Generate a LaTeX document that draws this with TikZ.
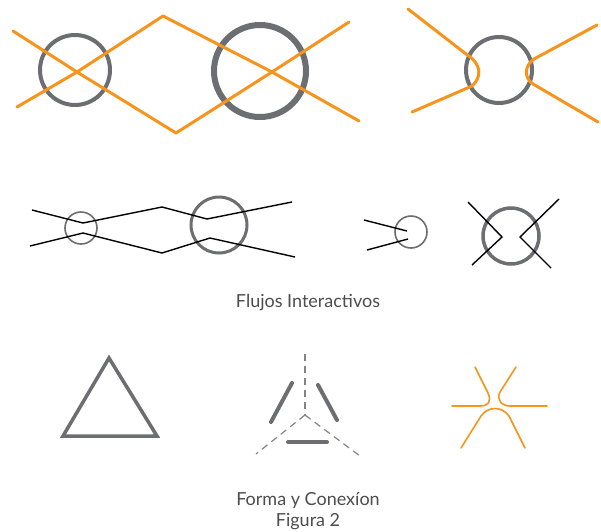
\documentclass[tikz,border=0pt]{standalone}
\usepackage{fontspec}
\setmainfont{Lato}
\definecolor{flujo}{HTML}{F7941D}
\definecolor{forma}{HTML}{6D6E71}
\definecolor{rotulo}{HTML}{4D4D4D}
\tikzset{
    flujo/.style={draw=flujo,line cap=round,line join=round},
    forma/.style={draw=forma},
    enlace/.style={draw=black,line width=1.4pt},
    punteada/.style={draw=forma!85,line width=1.2pt,dash pattern=on 7pt off 5pt},
    rotulo/.style={text=rotulo,font=\fontsize{18}{20}\selectfont}
}

\begin{document}
\begin{tikzpicture}[x=1pt,y=-1pt]
            \clip (0,0) rectangle (601,531);
            \fill[white] (0,0) rectangle (601,531);

            \draw[forma,line width=4pt] (75,70) circle (35);
            \draw[forma,line width=6pt] (260,71) circle (46);
            \draw[flujo,line width=3pt] (13,31) -- (77,72) -- (176,133) -- (272,72) -- (349,22);
            \draw[flujo,line width=3pt] (17,107) -- (77,72) -- (163,16) -- (272,72) -- (359,121);

            \draw[forma,line width=4pt] (499,70) circle (33);
            \draw[flujo,line width=3pt] (408,9) -- (466,54) .. controls (482,64) and (482,77) .. (472,86) -- (412,112);
            \draw[flujo,line width=3pt] (597,25) -- (534,59) .. controls (524,66) and (524,78) .. (533,84) -- (598,122);

            \draw[forma,line width=1.6pt] (81,228) circle (16);
            \draw[forma,line width=3pt] (219,225) circle (28);
            \draw[enlace] (32,210) -- (83,223) -- (162,207) -- (207,219) -- (292,202);
            \draw[enlace] (30,246) -- (83,233) -- (162,253) -- (210,238) -- (295,257);

            \draw[forma,line width=1.6pt] (411,232) circle (16);
            \draw[enlace] (364,220) -- (407,231);
            \draw[enlace] (367,250) -- (408,239);

            \draw[forma,line width=3.5pt] (511,236) circle (28);
            \draw[enlace] (468,202) -- (502,237) -- (472,265);
            \draw[enlace] (559,199) -- (520,237) -- (551,268);

            \node[rotulo] (flujos) at (308,302) {Flujos Interactivos};

            \draw[forma,line width=3.5pt] (109,358) -- (157,436) -- (63,436) -- cycle;

            \draw[punteada] (305,354) -- (305,415);
            \draw[punteada] (305,415) -- (256,454);
            \draw[punteada] (305,415) -- (360,456);
            \draw[forma,line width=4pt,line cap=round] (292,383) -- (271,422);
            \draw[forma,line width=4pt,line cap=round] (318,385) -- (337,420);
            \draw[forma,line width=4pt,line cap=round] (288,442) -- (327,442);

            \draw[flujo,line width=1.6pt] (475,367) -- (488,393) .. controls (492,402) and (488,406) .. (480,406) -- (452,406);
            \draw[flujo,line width=1.6pt] (516,367) -- (500,392) .. controls (496,400) and (502,406) .. (510,406) -- (547,406);
            \draw[flujo,line width=1.6pt] (461,448) -- (481,416) .. controls (488,406) and (502,406) .. (509,416) -- (525,448);

            \node[rotulo] (conexion) at (308,501) {Forma y Conexíon};
            \node[rotulo,anchor=south,inner sep=1pt] (figura) at (308,531) {Figura 2};
        \end{tikzpicture}
\end{document}
